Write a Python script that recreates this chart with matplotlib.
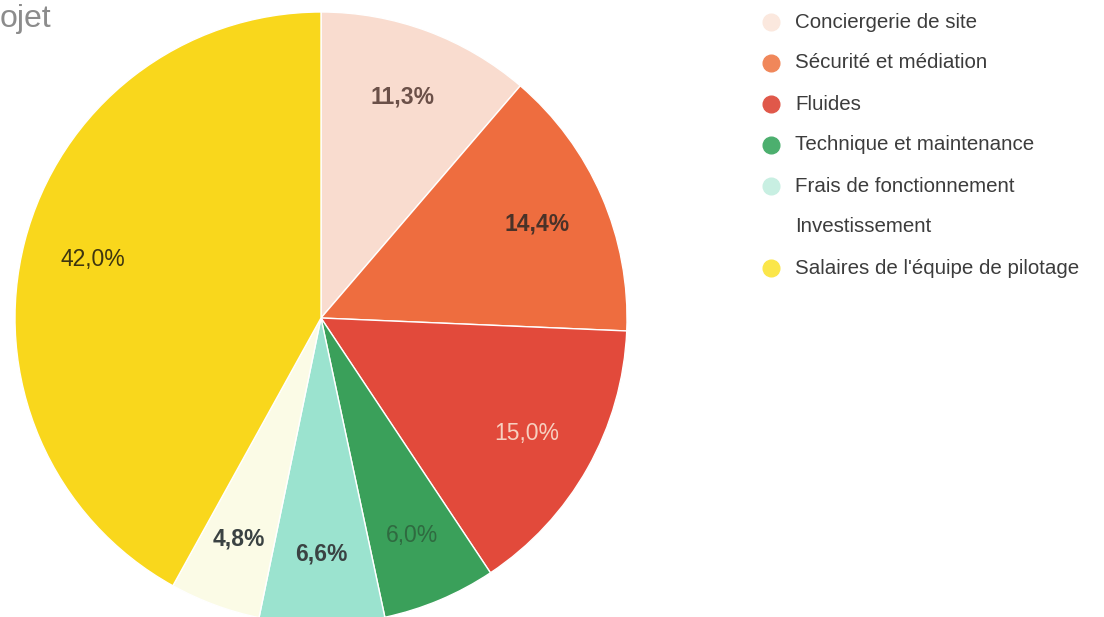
import matplotlib
matplotlib.use("Agg")
import matplotlib.pyplot as plt
from matplotlib.lines import Line2D
import numpy as np

# ── Data ─────────────────────────────────────────────────────────
LABELS = [
    "Conciergerie de site",
    "Sécurité et médiation",
    "Fluides",
    "Technique et maintenance",
    "Frais de fonctionnement",
    "Investissement",
    "Salaires de l'équipe de pilotage",
]
SHARES = [11.3, 14.4, 15.0, 6.0, 6.6, 4.8, 42.0]

# ── Style ────────────────────────────────────────────────────────
SLICE_COLORS  = ['#f9dccf', '#ee6d3f', '#e24a3b', '#3aa05a',
                 '#9be3cf', '#fbfbe6', '#f9d71c']
LEGEND_COLORS = ['#fbe8de', '#f0875a', '#e0584a', '#4caf6e',
                 '#c8efe2', '#ffffff', '#fbe64a']
PCT_COLORS    = ['#6b5048', '#4a3228', '#f7d0c0', '#2f6a40',
                 '#3a4242', '#3a4242', '#3d3510']
PCT_WEIGHTS   = ['bold', 'semibold', 'normal', 'normal',
                 'bold', 'bold', 'normal']

plt.rcParams['font.family'] = ['Liberation Sans', 'DejaVu Sans']

W, H = 1104, 617
fig = plt.figure(figsize=(W / 100, H / 100), dpi=100)
fig.patch.set_facecolor('white')

# pie centre (321, 318) px from top, radius 306 px
cx, cy, r = 321, 318, 306
ax = fig.add_axes([(cx - r) / W, (H - cy - r) / H, 2 * r / W, 2 * r / H])

wedges, _ = ax.pie(
    SHARES,
    colors=SLICE_COLORS,
    startangle=90,
    counterclock=False,
    radius=1.0,
    wedgeprops=dict(edgecolor='white', linewidth=1.0),
)
ax.set_xlim(-1, 1)
ax.set_ylim(-1, 1)
ax.set_aspect('equal')
ax.axis('off')

for w, val, col, wt in zip(wedges, SHARES, PCT_COLORS, PCT_WEIGHTS):
    ang = np.deg2rad((w.theta1 + w.theta2) / 2)
    ax.text(0.77 * np.cos(ang), 0.77 * np.sin(ang),
            f"{val:.1f}%".replace('.', ','),
            ha='center', va='center', fontsize=16.5,
            color=col, fontweight=wt)

# ── Legend ───────────────────────────────────────────────────────
y0, dy = 22, 41
for i, (lab, col) in enumerate(zip(LABELS, LEGEND_COLORS)):
    y = 1 - (y0 + i * dy) / H
    fig.text(795 / W, y, lab, ha='left', va='center',
             fontsize=14.8, color='#3c3c3c')
    fig.add_artist(Line2D([771 / W], [y], marker='o', markersize=12,
                          color=col, linestyle='none',
                          transform=fig.transFigure))

# cropped title
fig.text(0, 1 - 19 / H, "ojet", ha='left', va='center',
         fontsize=23, color='#8c8c8c')

fig.savefig('out.png', dpi=100, facecolor='white')
